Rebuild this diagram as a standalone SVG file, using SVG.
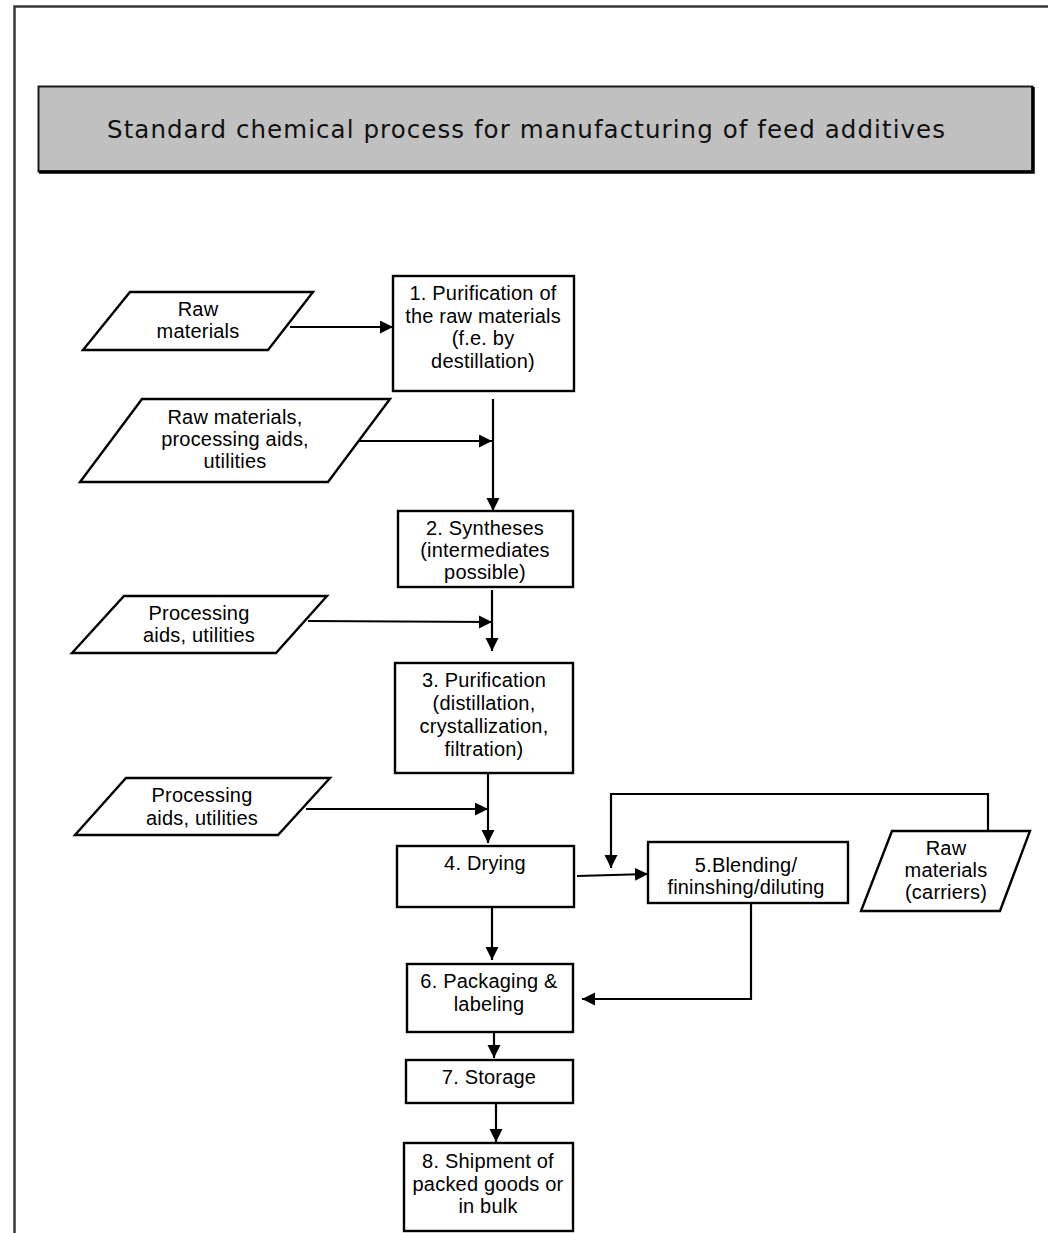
<svg xmlns="http://www.w3.org/2000/svg" width="1048" height="1233" viewBox="0 0 1048 1233">
  <style>
    .frame { fill: none; stroke: #3a3a3a; stroke-width: 2.5; }
    .box { fill: #ffffff; stroke: #000000; stroke-width: 2.4; }
    .io { fill: #ffffff; stroke: #000000; stroke-width: 2.4; stroke-linejoin: miter; }
    .lbl { font-family: "Liberation Sans", Arial, sans-serif; font-size: 20px; letter-spacing: 0.2px; fill: #000000; text-anchor: middle; }
    .title { font-family: "DejaVu Sans", Verdana, sans-serif; font-size: 24.5px; fill: #111111; text-anchor: middle; }
    .flow { fill: none; stroke: #000000; stroke-width: 2.2; }
    .flow.arrow { marker-end: url(#head); }
  </style>
  <defs>
    <marker id="head" markerUnits="userSpaceOnUse" markerWidth="15" markerHeight="14" refX="13" refY="6.5" orient="auto">
      <path d="M0,0 L13,6.5 L0,13 z" fill="#000000"/>
    </marker>
  </defs>

  <rect width="1048" height="1233" fill="#ffffff"/>

  <!-- page frame: left and top rules -->
  <path class="frame" d="M14.5,1233 L14.5,6.5 L1048,6.5"/>

  <!-- title banner -->
  <g id="title">
    <rect x="38.5" y="86.5" width="994" height="85" fill="#c0c0c0" stroke="#1a1a1a" stroke-width="2"/>
    <path d="M39,172 L1033,172 L1033,87" fill="none" stroke="#000000" stroke-width="3.5"/>
    <text class="title" x="526" y="138" textLength="838" lengthAdjust="spacing">Standard chemical process for manufacturing of feed additives</text>
  </g>

  <!-- connectors -->
  <g id="connectors">
    <path class="flow arrow" d="M290,327 L393,327"/>
    <path class="flow arrow" d="M358,441 L492,441"/>
    <path class="flow arrow" d="M493,399 L493,511"/>
    <path class="flow arrow" d="M308,621 L492,622"/>
    <path class="flow arrow" d="M492,590 L492,651"/>
    <path class="flow arrow" d="M306,809 L488,809"/>
    <path class="flow arrow" d="M488,773 L488,843"/>
    <path class="flow arrow" d="M577,876 L648,874"/>
    <path class="flow arrow" d="M988,831 L988,794 L611,794 L611,868"/>
    <path class="flow arrow" d="M492,907 L492,960"/>
    <path class="flow arrow" d="M751,903 L751,999 L582,999"/>
    <path class="flow arrow" d="M494,1028 L494,1058"/>
    <path class="flow arrow" d="M496,1103 L496,1142"/>
  </g>

  <!-- inputs -->
  <g id="input-raw-materials">
    <polygon class="io" points="130,292 313,292 268,350 83,350"/>
    <text class="lbl" x="198" y="316">Raw</text>
    <text class="lbl" x="198" y="338">materials</text>
  </g>
  <g id="input-raw-aids-utilities">
    <polygon class="io" points="142,399 390,399 328,482 80,482"/>
    <text class="lbl" x="235" y="424">Raw materials,</text>
    <text class="lbl" x="235" y="446">processing aids,</text>
    <text class="lbl" x="235" y="468">utilities</text>
  </g>
  <g id="input-aids-utilities-1">
    <polygon class="io" points="124,596 327,596 276,653 72,653"/>
    <text class="lbl" x="199" y="620">Processing</text>
    <text class="lbl" x="199" y="642">aids, utilities</text>
  </g>
  <g id="input-aids-utilities-2">
    <polygon class="io" points="126,778 330,778 278,835 75,835"/>
    <text class="lbl" x="202" y="802">Processing</text>
    <text class="lbl" x="202" y="825">aids, utilities</text>
  </g>
  <g id="input-carriers">
    <polygon class="io" points="892,831 1030,831 1000,911 861,911"/>
    <text class="lbl" x="946" y="855">Raw</text>
    <text class="lbl" x="946" y="877">materials</text>
    <text class="lbl" x="946" y="899">(carriers)</text>
  </g>

  <!-- process steps -->
  <g id="step1">
    <rect class="box" x="393" y="276" width="181" height="115"/>
    <text class="lbl" x="483" y="300">1. Purification of</text>
    <text class="lbl" x="483" y="322.5">the raw materials</text>
    <text class="lbl" x="483" y="345">(f.e. by</text>
    <text class="lbl" x="483" y="368">destillation)</text>
  </g>
  <g id="step2">
    <rect class="box" x="398" y="511" width="175" height="76"/>
    <text class="lbl" x="485" y="535">2. Syntheses</text>
    <text class="lbl" x="485" y="557">(intermediates</text>
    <text class="lbl" x="485" y="579">possible)</text>
  </g>
  <g id="step3">
    <rect class="box" x="395" y="663" width="178" height="110"/>
    <text class="lbl" x="484" y="687">3. Purification</text>
    <text class="lbl" x="484" y="710">(distillation,</text>
    <text class="lbl" x="484" y="733">crystallization,</text>
    <text class="lbl" x="484" y="756">filtration)</text>
  </g>
  <g id="step4">
    <rect class="box" x="397" y="846" width="177" height="61"/>
    <text class="lbl" x="485" y="870">4. Drying</text>
  </g>
  <g id="step5">
    <rect class="box" x="648" y="842" width="200" height="61"/>
    <text class="lbl" x="746" y="872">5.Blending/</text>
    <text class="lbl" x="746" y="894">fininshing/diluting</text>
  </g>
  <g id="step6">
    <rect class="box" x="407" y="964" width="166" height="68"/>
    <text class="lbl" x="489" y="988">6. Packaging &amp;</text>
    <text class="lbl" x="489" y="1011">labeling</text>
  </g>
  <g id="step7">
    <rect class="box" x="406" y="1060" width="167" height="43"/>
    <text class="lbl" x="489" y="1084">7. Storage</text>
  </g>
  <g id="step8">
    <rect class="box" x="404" y="1143" width="169" height="88"/>
    <text class="lbl" x="488" y="1168">8. Shipment of</text>
    <text class="lbl" x="488" y="1191">packed goods or</text>
    <text class="lbl" x="488" y="1213">in bulk</text>
  </g>
</svg>
